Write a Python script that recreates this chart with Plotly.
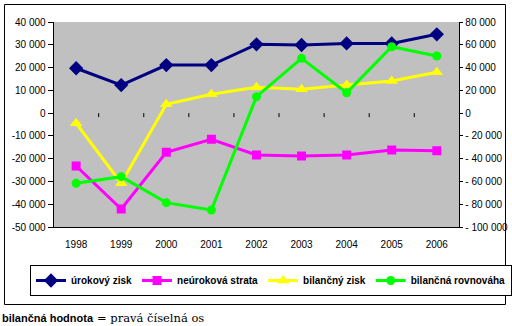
import plotly.graph_objects as go

# Years on the category axis
years = ["1998", "1999", "2000", "2001", "2002", "2003", "2004", "2005", "2006"]

# Left axis series
urokovy_zisk = [19700, 12300, 21100, 21100, 30200, 29900, 30600, 30600, 34600]
neurokova_strata = [-23200, -42100, -17200, -11500, -18400, -18800, -18400, -16200, -16500]

# Right axis series (bilančná hodnota)
bilancny_zisk = [-8900, -61600, 7700, 16500, 22700, 20900, 24700, 28200, 35800]
bilancna_rovnovaha = [-61600, -55800, -78600, -85100, 14400, 48100, 17900, 58300, 50100]

# Tick values and labels
left_ticks = [40000, 30000, 20000, 10000, 0, -10000, -20000, -30000, -40000, -50000]
left_labels = ["40 000", "30 000", "20 000", "10 000", "0", "-10 000", "-20 000",
               "-30 000", "-40 000", "-50 000"]
right_ticks = [80000, 60000, 40000, 20000, 0, -20000, -40000, -60000, -80000, -100000]
right_labels = ["80 000", "60 000", "40 000", "20 000", "0", "- 20 000", "- 40 000",
                "- 60 000", "- 80 000", "- 100 000"]
grid_vals = [30000, 20000, 10000, 0, -10000, -20000, -30000, -40000]

FONT = "Liberation Sans, Arial, sans-serif"

# Page geometry (pixels): wide paper area, plot area placed by the x-axis domain
W, H = 512, 326
ML, MR, MT, MB = 4, 4, 22, 99
PW = W - ML - MR
PH = H - MT - MB
PLOT_L, PLOT_R = 54, 463


def px_x(px):
    return (px - ML) / PW


def px_y(py):
    return (H - MB - py) / PH


fig = go.Figure()

fig.add_trace(go.Scatter(
    x=years, y=urokovy_zisk, name="úrokový zisk", mode="lines+markers",
    line=dict(color="#000080", width=3),
    marker=dict(symbol="diamond", size=11, color="#000080"),
))
fig.add_trace(go.Scatter(
    x=years, y=neurokova_strata, name="neúroková strata", mode="lines+markers",
    line=dict(color="#FF00FF", width=3),
    marker=dict(symbol="square", size=9, color="#FF00FF"),
))
fig.add_trace(go.Scatter(
    x=years, y=bilancny_zisk, name="bilančný zisk", mode="lines+markers", yaxis="y2",
    line=dict(color="#FFFF00", width=3),
    marker=dict(symbol="triangle-up", size=11, color="#FFFF00"),
))
fig.add_trace(go.Scatter(
    x=years, y=bilancna_rovnovaha, name="bilančná rovnováha", mode="lines+markers", yaxis="y2",
    line=dict(color="#00FF00", width=3),
    marker=dict(symbol="circle", size=9, color="#00FF00"),
))

# Small category ticks hanging below the zero line
shapes = []
for i in range(len(years) - 1):
    shapes.append(dict(
        type="line", xref="x", yref="y", ysizemode="pixel", yanchor=0,
        x0=i + 0.5, x1=i + 0.5, y0=0, y1=-4,
        line=dict(color="black", width=1),
    ))

# Outer chart frame
shapes.append(dict(
    type="rect", xref="paper", yref="paper",
    x0=px_x(4.5), x1=px_x(509.5), y0=px_y(304.5), y1=px_y(4.5),
    line=dict(color="black", width=1), fillcolor="rgba(0,0,0,0)", layer="below",
))

fig.update_layout(
    width=W, height=H,
    margin=dict(l=ML, r=MR, t=MT, b=MB),
    paper_bgcolor="white",
    plot_bgcolor="#C0C0C0",
    font=dict(family=FONT, size=10, color="black"),
    showlegend=True,
    legend=dict(
        orientation="h", x=px_x(33), xanchor="left",
        y=px_y(265), yanchor="top",
        bgcolor="white", bordercolor="black", borderwidth=1,
        font=dict(family=FONT, size=10, color="black", weight="bold"),
        itemwidth=30, tracegroupgap=0,
    ),
    xaxis=dict(
        domain=[px_x(PLOT_L), px_x(PLOT_R)],
        type="category", categoryorder="array", categoryarray=years,
        range=[-0.5, len(years) - 0.5],
        showline=True, linecolor="black", linewidth=1,
        showgrid=False, zeroline=False, ticks="", ticklabelstandoff=8,
        tickfont=dict(family=FONT, size=10),
    ),
    yaxis=dict(
        range=[-50000, 40000], tickvals=left_ticks, ticktext=left_labels,
        ticks="outside", ticklen=5, tickcolor="black",
        showline=True, linecolor="black", linewidth=1,
        showgrid=False, zeroline=False,
        tickfont=dict(family=FONT, size=10),
    ),
    yaxis2=dict(
        overlaying="y", side="right", anchor="x",
        range=[-100000, 80000], tickvals=right_ticks, ticktext=right_labels,
        ticks="outside", ticklen=3, tickcolor="black",
        showline=True, linecolor="black", linewidth=1,
        showgrid=False, zeroline=False,
        tickfont=dict(family=FONT, size=10),
    ),
    yaxis3=dict(
        overlaying="y", anchor="x", range=[-50000, 40000], tickvals=grid_vals,
        showgrid=True, gridcolor="black", gridwidth=1,
        showticklabels=False, ticks="", showline=False, zeroline=False,
    ),
    shapes=shapes,
    annotations=[
        dict(
            text="<b>bilančná hodnota</b>", xref="paper", yref="paper",
            x=px_x(0), y=px_y(318), xanchor="left", yanchor="middle",
            showarrow=False, font=dict(family=FONT, size=11, color="black"),
        ),
        dict(
            text="= pravá číselná os", xref="paper", yref="paper",
            x=px_x(96), y=px_y(318), xanchor="left", yanchor="middle",
            showarrow=False, font=dict(family="DejaVu Serif, serif", size=11.5, color="black"),
        ),
    ],
)

fig.write_html("out.html")
